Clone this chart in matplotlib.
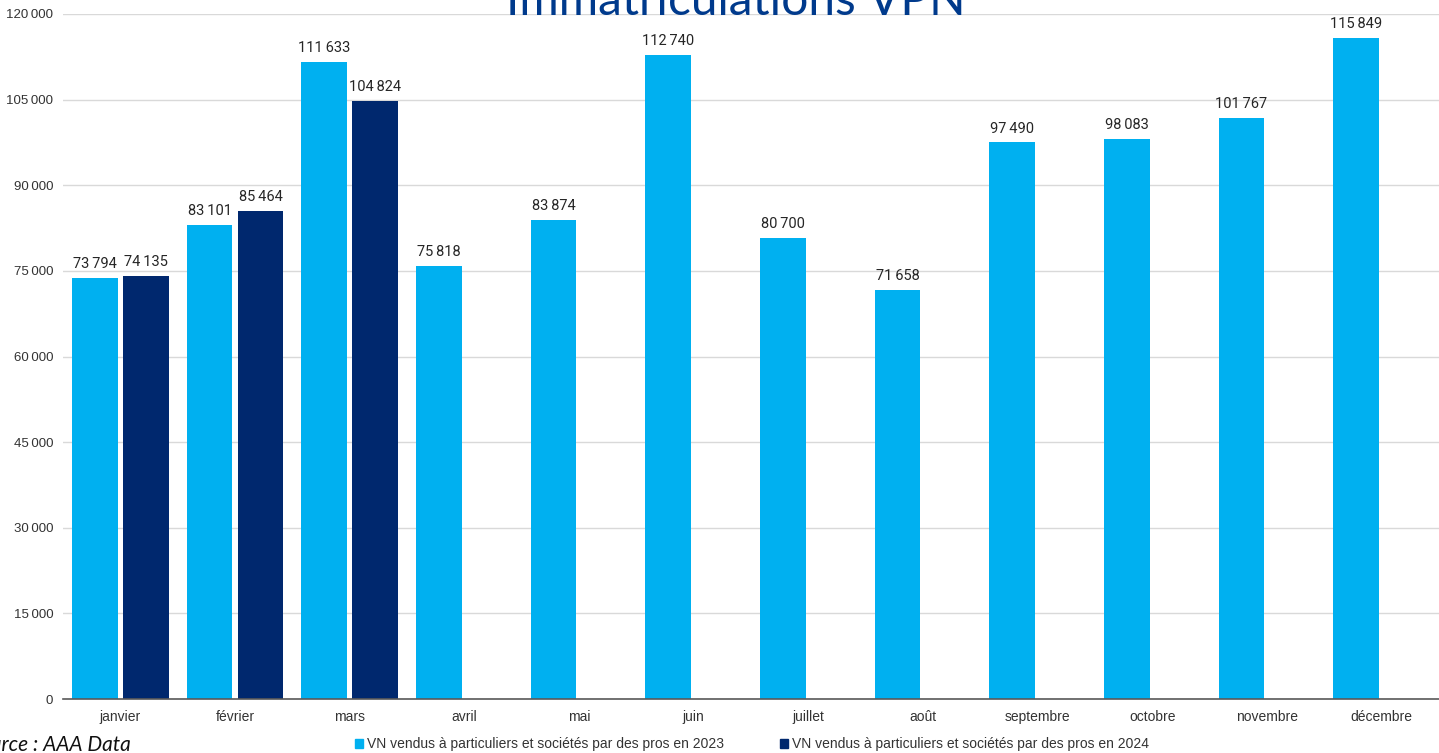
import matplotlib.pyplot as plt
import numpy as np

months = ['janvier', 'février', 'mars', 'avril', 'mai', 'juin', 'juillet',
          'août', 'septembre', 'octobre', 'novembre', 'décembre']
vn_2023 = [73794, 83101, 111633, 75818, 83874, 112740, 80700, 71658,
           97490, 98083, 101767, 115849]
vn_2024 = [74135, 85464, 104824]
label_2023 = 'VN vendus à particuliers et sociétés par des pros en 2023'
label_2024 = 'VN vendus à particuliers et sociétés par des pros en 2024'
yticks = [0, 15000, 30000, 45000, 60000, 75000, 90000, 105000, 120000]

light = '#00B0F0'
dark = '#00286E'


def fmt(v):
    return '{:,}'.format(v).replace(',', '\u202f')


fig = plt.figure(figsize=(14.39, 7.53), dpi=100)
ax = fig.add_axes([63 / 1439, 1 - 699 / 753, 1 - 63 / 1439, (699 - 14) / 753])

x = np.arange(len(months))
w = 0.4
off = 0.222
b1 = ax.bar(x - off, vn_2023, w, color=light, zorder=3)
b2 = ax.bar(x[:len(vn_2024)] + off, vn_2024, w, color=dark, zorder=3)

for bars, vals in [(b1, vn_2023), (b2, vn_2024)]:
    for r, v in zip(bars, vals):
        ax.annotate(fmt(v), (r.get_x() + r.get_width() / 2, v),
                    xytext=(0, 5), textcoords='offset points',
                    ha='center', va='bottom', fontsize=10.5,
                    family=['Roboto', 'DejaVu Sans'], color='#262626')

ax.set_xlim(-0.5, len(months) - 0.5)
ax.set_ylim(0, 120000)
ax.set_yticks(yticks)
ax.set_yticklabels([fmt(t) for t in yticks], fontsize=9.5,
                   family=['Liberation Sans', 'DejaVu Sans'], color='#333333')
ax.set_xticks(x)
ax.set_xticklabels(months, fontsize=10, family='Liberation Sans', color='#333333')
ax.tick_params(axis='both', length=0)
ax.tick_params(axis='y', pad=7)
ax.tick_params(axis='x', pad=8)
ax.grid(axis='y', color='#D9D9D9', linewidth=1, zorder=0)
for s in ['top', 'right', 'left']:
    ax.spines[s].set_visible(False)
ax.spines['bottom'].set_color('#595959')
ax.spines['bottom'].set_linewidth(1.2)
ax.spines['bottom'].set_zorder(4)

fig.text(0.511, 1 - 15 / 753, 'Immatriculations VPN', ha='center',
         va='baseline', fontsize=34.5, color='#003A8C', family='Lato')
fig.text(131 / 1439, 1 - 745 / 753, 'Source : AAA Data', ha='right',
         va='center', fontsize=15, style='italic', family='Lato',
         color='#111111')

handles = [plt.Rectangle((0, 0), 1, 1, color=light),
           plt.Rectangle((0, 0), 1, 1, color=dark)]
fig.legend(handles, [label_2023, label_2024], loc='center',
           bbox_to_anchor=(752 / 1439, 1 - 744 / 753), ncol=2, frameon=False,
           prop={'family': 'Liberation Sans', 'size': 10},
           handlelength=0.6, handleheight=0.6, handletextpad=0.3,
           columnspacing=4.0, labelcolor='#333333')

fig.savefig('out.png', dpi=100)
